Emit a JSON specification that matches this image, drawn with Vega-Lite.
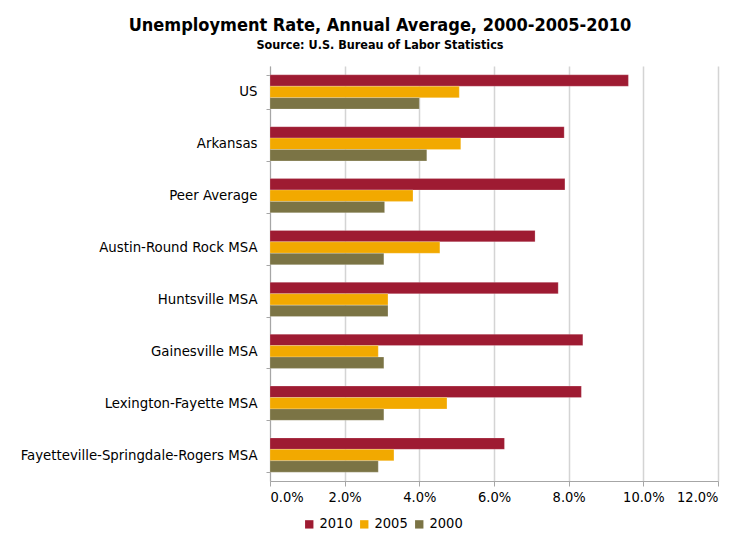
{
  "$schema": "https://vega.github.io/schema/vega-lite/v6.json",
  "width": 448,
  "height": 415,
  "autosize": {"type": "none"},
  "padding": {"left": 270, "top": 66, "right": 36, "bottom": 60},
  "background": "#ffffff",
  "title": {
    "text": "Unemployment Rate, Annual Average, 2000-2005-2010",
    "subtitle": "Source: U.S. Bureau of Labor Statistics",
    "font": "DejaVu Sans Condensed",
    "fontSize": 18,
    "fontWeight": "bold",
    "color": "#000000",
    "subtitleFont": "DejaVu Sans Condensed",
    "subtitleFontSize": 12.5,
    "subtitleFontWeight": "bold",
    "subtitleColor": "#000000",
    "subtitlePadding": 4,
    "anchor": "middle",
    "dx": -114,
    "offset": 7
  },
  "data": {
    "values": [
      {"region": "US", "year": "2010", "rate": 0.096},
      {"region": "US", "year": "2005", "rate": 0.0507},
      {"region": "US", "year": "2000", "rate": 0.040},
      {"region": "Arkansas", "year": "2010", "rate": 0.0788},
      {"region": "Arkansas", "year": "2005", "rate": 0.0511},
      {"region": "Arkansas", "year": "2000", "rate": 0.042},
      {"region": "Peer Average", "year": "2010", "rate": 0.079},
      {"region": "Peer Average", "year": "2005", "rate": 0.0383},
      {"region": "Peer Average", "year": "2000", "rate": 0.0307},
      {"region": "Austin-Round Rock MSA", "year": "2010", "rate": 0.071},
      {"region": "Austin-Round Rock MSA", "year": "2005", "rate": 0.0455},
      {"region": "Austin-Round Rock MSA", "year": "2000", "rate": 0.0305},
      {"region": "Huntsville MSA", "year": "2010", "rate": 0.0772},
      {"region": "Huntsville MSA", "year": "2005", "rate": 0.0316},
      {"region": "Huntsville MSA", "year": "2000", "rate": 0.0316},
      {"region": "Gainesville MSA", "year": "2010", "rate": 0.0838},
      {"region": "Gainesville MSA", "year": "2005", "rate": 0.029},
      {"region": "Gainesville MSA", "year": "2000", "rate": 0.0305},
      {"region": "Lexington-Fayette MSA", "year": "2010", "rate": 0.0834},
      {"region": "Lexington-Fayette MSA", "year": "2005", "rate": 0.0474},
      {"region": "Lexington-Fayette MSA", "year": "2000", "rate": 0.0305},
      {"region": "Fayetteville-Springdale-Rogers MSA", "year": "2010", "rate": 0.0628},
      {"region": "Fayetteville-Springdale-Rogers MSA", "year": "2005", "rate": 0.0332},
      {"region": "Fayetteville-Springdale-Rogers MSA", "year": "2000", "rate": 0.029}
    ]
  },
  "mark": {"type": "bar", "stroke": "#ffffff", "strokeOpacity": 0.35, "strokeWidth": 0.6},
  "encoding": {
    "y": {
      "field": "region",
      "type": "nominal",
      "sort": ["US", "Arkansas", "Peer Average", "Austin-Round Rock MSA", "Huntsville MSA", "Gainesville MSA", "Lexington-Fayette MSA", "Fayetteville-Springdale-Rogers MSA"],
      "scale": {"paddingInner": 0.34, "paddingOuter": 0.17},
      "axis": {
        "title": null,
        "tickBand": "extent",
        "tickSize": 4,
        "tickColor": "#a6a6a6",
        "domainColor": "#a6a6a6",
        "labelFont": "DejaVu Sans Condensed",
        "labelFontSize": 14.8,
        "labelColor": "#000000",
        "labelPadding": 9,
        "labelLimit": 300
      }
    },
    "yOffset": {
      "field": "year",
      "type": "nominal",
      "sort": ["2010", "2005", "2000"],
      "scale": {"paddingInner": 0, "paddingOuter": 0}
    },
    "x": {
      "field": "rate",
      "type": "quantitative",
      "scale": {"domain": [0, 0.12], "nice": false},
      "axis": {
        "title": null,
        "values": [0, 0.02, 0.04, 0.06, 0.08, 0.1, 0.12],
        "format": ".1%",
        "grid": true,
        "gridColor": "#d4d4d4",
        "gridWidth": 1.5,
        "tickSize": 5,
        "tickColor": "#a6a6a6",
        "domainColor": "#a6a6a6",
        "labelFont": "DejaVu Sans Condensed",
        "labelFontSize": 14.5,
        "labelColor": "#000000",
        "labelPadding": 4
      }
    },
    "color": {
      "field": "year",
      "type": "nominal",
      "scale": {"domain": ["2010", "2005", "2000"], "range": ["#9e1b32", "#f2a900", "#7b7445"]},
      "legend": {
        "title": null,
        "orient": "none",
        "direction": "horizontal",
        "legendX": 32,
        "legendY": 451,
        "symbolType": "square",
        "symbolSize": 70,
        "symbolStrokeWidth": 0,
        "labelFont": "DejaVu Sans Condensed",
        "labelFontSize": 14.5,
        "labelColor": "#000000",
        "labelOffset": 3,
        "columnPadding": 4
      }
    }
  },
  "config": {
    "view": {"stroke": null}
  }
}
